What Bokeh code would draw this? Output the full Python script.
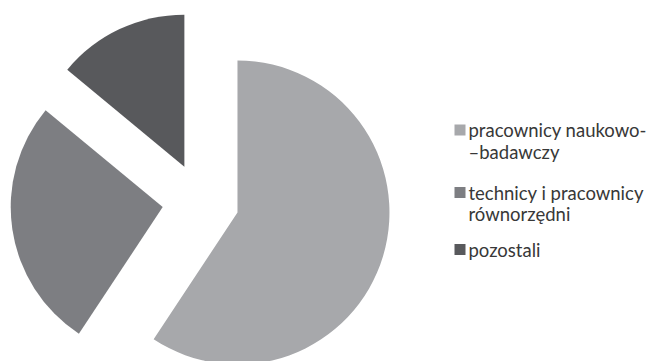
import math
from bokeh.plotting import figure
from bokeh.models import ColumnDataSource
from bokeh.core.properties import value
from bokeh.embed import file_html
from bokeh.resources import INLINE

# ---- data ----
categories = ["pracownicy naukowo-\n\u2013badawczy", "technicy i pracownicy\nrównorzędni", "pozostali"]
shares = [59.3, 26.7, 14.0]
colors = ["#a7a8ab", "#7d7e82", "#58595c"]

# ---- layout ----
W, H = 647, 361
cx, cy = 200.2, H - 200.9      # pie centre (data units = px)
R = 152
EXPLODE = 38.4
FONT = "Lato"
FSIZE = "18.5px"

p = figure(width=W, height=H, x_range=(0, W), y_range=(0, H),
           output_backend="svg", toolbar_location=None, min_border=0)
p.axis.visible = False
p.grid.visible = False
p.outline_line_color = None
p.background_fill_color = "white"

total = sum(shares)
starts, ends, xs, ys = [], [], [], []
acc = 0.0
for s in shares:
    a0 = acc / total * 2 * math.pi            # clockwise from top
    a1 = (acc + s) / total * 2 * math.pi
    acc += s
    st = math.pi / 2 - a1
    en = math.pi / 2 - a0
    mid = (st + en) / 2
    starts.append(st)
    ends.append(en)
    xs.append(cx + EXPLODE * math.cos(mid))
    ys.append(cy + EXPLODE * math.sin(mid))

src = ColumnDataSource(dict(x=xs, y=ys, start=starts, end=ends, color=colors))
p.wedge(x="x", y="y", radius=R, start_angle="start", end_angle="end",
        fill_color="color", line_color=None, source=src)

# ---- legend (manual) ----
sq_x = 459.5
item_y = [H - 129.5, H - 192, H - 249]
line_gap = 21.5
lx, ly, ltxt = [], [], []
for lab, yy in zip(categories, item_y):
    for k, line in enumerate(lab.split("\n")):
        lx.append(sq_x + 8.5)
        ly.append(yy - k * line_gap)
        ltxt.append(line)

p.rect(x=[sq_x] * len(categories), y=item_y, width=11, height=11,
       fill_color=colors, line_color=None)
p.text(x=lx, y=ly, text=ltxt, text_font=value(FONT), text_font_size=FSIZE,
       text_baseline="middle", text_align="left", text_color="#383838")

open("out.html", "w").write(file_html(p, INLINE))
